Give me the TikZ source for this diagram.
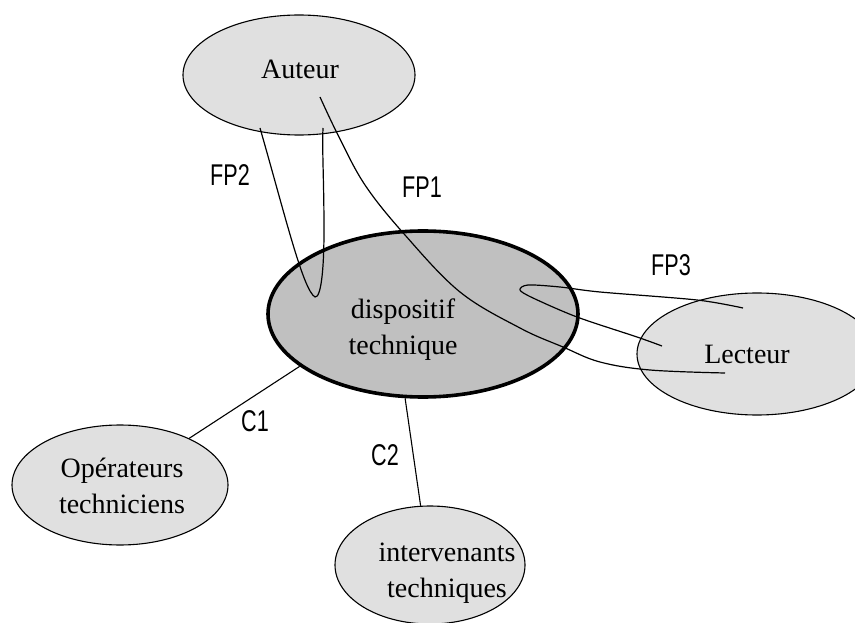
\documentclass[tikz,border=0pt]{standalone}
\usepackage{fontspec}
\setmainfont{Liberation Serif}
\newfontfamily\lblfont[FakeStretch=0.72]{Liberation Sans}
\usetikzlibrary{shapes.geometric}
\definecolor{lightfill}{RGB}{224,224,224}
\definecolor{midfill}{RGB}{192,192,192}
\begin{document}
\begin{tikzpicture}[x=1pt,y=-1pt,
  ell/.style={ellipse,draw=black,line width=1.1pt,fill=lightfill,inner sep=0pt},
  txt/.style={font=\fontsize{28}{36}\selectfont,align=center,inner sep=0pt},
  lbl/.style={font=\lblfont\fontsize{30}{30}\selectfont,inner sep=0pt},
  wire/.style={line width=1.1pt,draw=black},
  fp/.style={line width=1.2pt,draw=black,line join=round}]
\useasboundingbox (0,0) rectangle (855,623);
% ellipses
\node[ell,minimum width=232pt,minimum height=120pt] (aut) at (299,75) {};
\node[ell,minimum width=240pt,minimum height=122pt] (lec) at (757,354) {};
\node[ell,minimum width=216pt,minimum height=120pt] (ope) at (120,485) {};
\node[ell,minimum width=190pt,minimum height=118pt] (int) at (430,565) {};
\node[ellipse,draw=black,line width=3.6pt,fill=midfill,inner sep=0pt,
      minimum width=310pt,minimum height=166pt] (dt) at (423,314) {};
% texts
\node[txt] (autT) at (300,69) {Auteur};
\node[txt] (dtT) at (403,330) {dispositif\\technique};
\node[txt] (lecT) at (747,354) {Lecteur};
\node[txt] (opeT) at (122,486) {Opérateurs\\techniciens};
\node[txt] (intT) at (447,573) {intervenants\\techniques};
% C connectors
\draw[wire] (ope.34) -- (dt.203);
\draw[wire] (dt.258) -- (int.99);
\node[lbl] (c1) at (255,421) {C1};
\node[lbl] (c2) at (385,455) {C2};
% FP curves
\coordinate (fp2a) at (260,128);
\coordinate (fp2tip) at (315,297);
\coordinate (fp2b) at (323,128);
\draw[fp] (fp2a) .. controls (285,215) and (303,290) .. (fp2tip)
  .. controls (321,298) and (324,270) .. (324,230)
  .. controls (324,180) and (322,150) .. (fp2b);
\coordinate (fp1a) at (320,97);
\coordinate (fp1b) at (725,373);
\draw[fp] plot[smooth,tension=0.6] coordinates {(fp1a) (338,135) (365,185) (405,235) (460,292) (520,328) (563,347) (600,362) (650,370) (fp1b)};
\coordinate (fp3a) at (743,308);
\coordinate (fp3b) at (662,346);
\draw[fp] plot[smooth,tension=0.5] coordinates {(fp3a) (697,300) (600,292) (560,287) (528,285) (520,290) (533,298) (577,317) (637,337) (fp3b)};
\node[lbl] (fp2) at (230,175) {FP2};
\node[lbl] (fp1) at (422,187) {FP1};
\node[lbl] (fp3) at (671,265) {FP3};
\end{tikzpicture}
\end{document}
